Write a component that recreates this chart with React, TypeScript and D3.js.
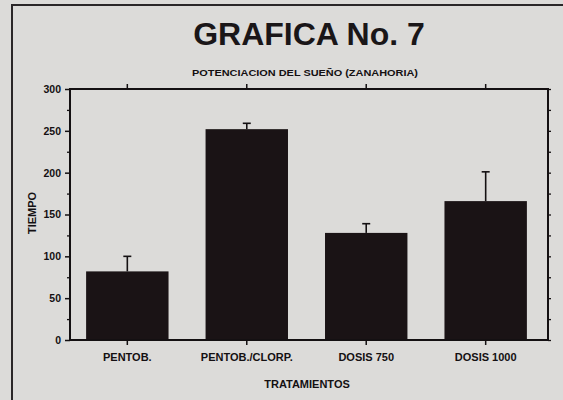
import React, { useEffect, useRef } from "react";
import * as d3 from "d3";

// valores
const categories = ["PENTOB.", "PENTOB./CLORP.", "DOSIS 750", "DOSIS 1000"];
const means = [82, 252, 128, 166];
const errors = [18, 7, 11, 35];
const yTicks = [0, 50, 100, 150, 200, 250, 300];
const yMinorTicks = [25, 75, 125, 175, 225, 275];

const W = 563;
const H = 400;
const FONT = "'Liberation Sans', Arial, Helvetica, sans-serif";
const INK = "#141012";

const App = () => {
  const svgRef = useRef<SVGSVGElement>(null);

  useEffect(() => {
    const svg = d3.select(svgRef.current);
    svg.selectAll("*").remove();

    const left = 70;
    const right = 548;
    const top = 89;
    const bottom = 340;

    const data = categories.map((c, i) => ({ c, m: means[i], e: errors[i] }));

    const x = d3.scaleBand().domain(categories).range([67, 546]).paddingInner(0.31).paddingOuter(0.16);
    const y = d3.scaleLinear().domain([0, 300]).range([bottom, top]);

    // fondo (papel escaneado)
    svg.append("rect").attr("width", W).attr("height", H).attr("fill", "#dcdbd9");

    // marco exterior
    svg
      .append("path")
      .attr("d", `M12,${H} L12,5 L${W},5`)
      .attr("fill", "none")
      .attr("stroke", "#2a2628")
      .attr("stroke-width", 2);

    // título
    svg
      .append("text")
      .attr("x", 309)
      .attr("y", 45)
      .attr("text-anchor", "middle")
      .style("font-family", FONT)
      .style("font-weight", "bold")
      .style("font-size", "32px")
      .attr("fill", "#1a1618")
      .text("GRAFICA No. 7");

    svg
      .append("text")
      .attr("x", 305)
      .attr("y", 76)
      .attr("text-anchor", "middle")
      .attr("textLength", 226)
      .attr("lengthAdjust", "spacingAndGlyphs")
      .style("font-family", FONT)
      .style("font-weight", "bold")
      .style("font-size", "9px")
      .attr("fill", INK)
      .text("POTENCIACION DEL SUEÑO (ZANAHORIA)");

    // barras
    svg
      .append("g")
      .selectAll("rect")
      .data(data)
      .join("rect")
      .attr("x", (d) => x(d.c)!)
      .attr("y", (d) => y(d.m))
      .attr("width", x.bandwidth())
      .attr("height", (d) => y(0) - y(d.m))
      .attr("fill", "#1a1315");

    // barras de error
    const eb = svg.append("g").attr("stroke", INK).attr("stroke-width", 1.6);
    data.forEach((d) => {
      const cx = x(d.c)! + x.bandwidth() / 2;
      eb.append("line").attr("x1", cx).attr("x2", cx).attr("y1", y(d.m)).attr("y2", y(d.m + d.e));
      eb.append("line")
        .attr("x1", cx - 4)
        .attr("x2", cx + 4)
        .attr("y1", y(d.m + d.e))
        .attr("y2", y(d.m + d.e));
    });

    // eje Y izquierdo
    const yAxis = svg
      .append("g")
      .attr("transform", `translate(${left},0)`)
      .call(d3.axisLeft(y).tickValues(yTicks).tickSize(5).tickPadding(4));
    yAxis.select(".domain").remove();
    yAxis.selectAll("line").attr("stroke", INK).attr("stroke-width", 1.5);
    yAxis
      .selectAll("text")
      .style("font-family", FONT)
      .style("font-weight", "bold")
      .style("font-size", "10.5px")
      .attr("fill", INK);

    const yMinor = svg
      .append("g")
      .attr("transform", `translate(${left},0)`)
      .call(d3.axisLeft(y).tickValues(yMinorTicks).tickSize(3).tickFormat(() => ""));
    yMinor.select(".domain").remove();
    yMinor.selectAll("line").attr("stroke", INK).attr("stroke-width", 1.3);

    // eje Y derecho
    const yRight = svg
      .append("g")
      .attr("transform", `translate(${right},0)`)
      .call(d3.axisRight(y).tickValues(d3.merge([yTicks, yMinorTicks])).tickSize(3).tickFormat(() => ""));
    yRight.select(".domain").remove();
    yRight.selectAll("line").attr("stroke", INK).attr("stroke-width", 1.3);

    // eje X inferior
    const xAxis = svg
      .append("g")
      .attr("transform", `translate(0,${bottom})`)
      .call(d3.axisBottom(x).tickSize(5).tickPadding(8));
    xAxis.select(".domain").remove();
    xAxis.selectAll("line").attr("stroke", INK).attr("stroke-width", 1.5);
    xAxis
      .selectAll("text")
      .style("font-family", FONT)
      .style("font-weight", "bold")
      .style("font-size", "11px")
      .attr("fill", INK);

    // eje X superior
    const xTop = svg
      .append("g")
      .attr("transform", `translate(0,${top})`)
      .call(d3.axisTop(x).tickSize(5).tickFormat(() => ""));
    xTop.select(".domain").remove();
    xTop.selectAll("line").attr("stroke", INK).attr("stroke-width", 1.5);

    // marco del gráfico
    svg
      .append("rect")
      .attr("x", left)
      .attr("y", top)
      .attr("width", right - left)
      .attr("height", bottom - top)
      .attr("fill", "none")
      .attr("stroke", INK)
      .attr("stroke-width", 2);

    // títulos de ejes
    svg
      .append("text")
      .attr("transform", `translate(36,213) rotate(-90)`)
      .attr("text-anchor", "middle")
      .style("font-family", FONT)
      .style("font-weight", "bold")
      .style("font-size", "11px")
      .attr("fill", INK)
      .text("TIEMPO");

    svg
      .append("text")
      .attr("x", 307)
      .attr("y", 388)
      .attr("text-anchor", "middle")
      .style("font-family", FONT)
      .style("font-weight", "bold")
      .style("font-size", "11px")
      .attr("fill", INK)
      .text("TRATAMIENTOS");
  }, []);

  return (
    <svg
      ref={svgRef}
      width={W}
      height={H}
      style={{ position: "absolute", left: 0, top: 0, display: "block" }}
    />
  );
};

export default App;
